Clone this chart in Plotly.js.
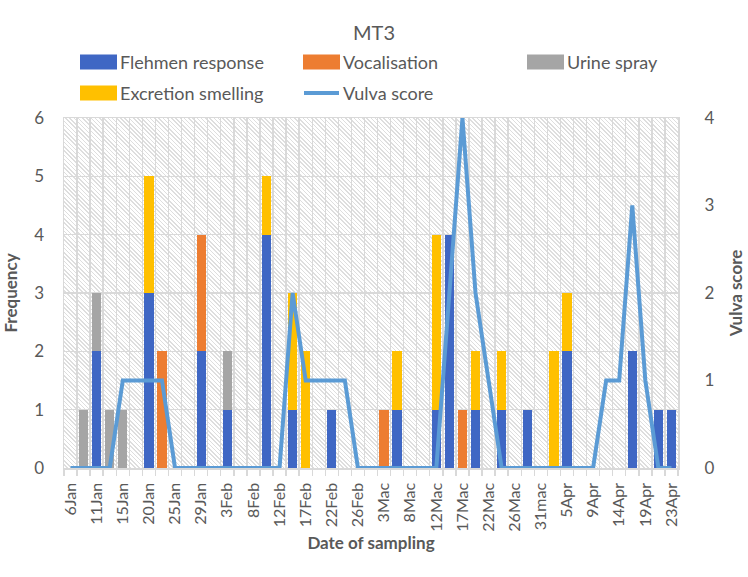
<!DOCTYPE html>
<html>
<head>
<meta charset="utf-8">
<script src="https://cdn.plot.ly/plotly-3.0.1.min.js"></script>
<style>
  html, body { margin: 0; padding: 0; background: #ffffff; }
  #wrap { position: relative; width: 748px; height: 577px; }
  /* diagonal hatch behind the plotting area */
  #hatch {
    position: absolute;
    background: repeating-linear-gradient(45deg, #ffffff 0px, #ffffff 1.9px, #dedede 1.9px, #dedede 3px);
  }
  #chart { position: absolute; left: 0; top: 0; width: 748px; height: 577px; }
</style>
</head>
<body>
<div id="wrap">
  <div id="hatch"></div>
  <div id="chart"></div>
</div>
<script>
// Date labels printed on the axis (every second sampling occasion)
const dateLabels = ['6Jan', '11Jan', '15Jan', '20Jan', '25Jan', '29Jan', '3Feb', '8Feb',
  '12Feb', '17Feb', '22Feb', '26Feb', '3Mac', '8Mac', '12Mac', '17Mac', '22Mac', '26Mac',
  '31mac', '5Apr', '9Apr', '14Apr', '19Apr', '23Apr'];

// Behaviour counts per sampling occasion (47 occasions)
const flehmen = [
  0, 0, 2, 0, 0, 0, 3, 0, 0, 0,
  2, 0, 1, 0, 0, 4, 0, 1, 0, 0,
  1, 0, 0, 0, 0, 1, 0, 0, 1, 4,
  0, 1, 0, 1, 0, 1, 0, 0, 2, 0,
  0, 0, 0, 2, 0, 1, 1];
const vocalisation = [
  0, 0, 0, 0, 0, 0, 0, 2, 0, 0,
  2, 0, 0, 0, 0, 0, 0, 0, 0, 0,
  0, 0, 0, 0, 1, 0, 0, 0, 0, 0,
  1, 0, 0, 0, 0, 0, 0, 0, 0, 0,
  0, 0, 0, 0, 0, 0, 0];
const urineSpray = [
  0, 1, 1, 1, 1, 0, 0, 0, 0, 0,
  0, 0, 1, 0, 0, 0, 0, 0, 0, 0,
  0, 0, 0, 0, 0, 0, 0, 0, 0, 0,
  0, 0, 0, 0, 0, 0, 0, 0, 0, 0,
  0, 0, 0, 0, 0, 0, 0];
const excretionSmelling = [
  0, 0, 0, 0, 0, 0, 2, 0, 0, 0,
  0, 0, 0, 0, 0, 1, 0, 2, 2, 0,
  0, 0, 0, 0, 0, 1, 0, 0, 3, 0,
  0, 1, 0, 1, 0, 0, 0, 2, 1, 0,
  0, 0, 0, 0, 0, 0, 0];
// Vulva score on the secondary axis
const vulvaScore = [
  0, 0, 0, 0, 1, 1, 1, 1, 0, 0,
  0, 0, 0, 0, 0, 0, 0, 2, 1, 1,
  1, 1, 0, 0, 0, 0, 0, 0, 0, 2,
  4, 2, 1, 0, 0, 0, 0, 0, 0, 0,
  0, 1, 1, 3, 1, 0, 0];

const sampleIndex = flehmen.map((_, i) => i);
const tickVals = dateLabels.map((_, k) => 2 * k);

const COLORS = {
  flehmen: '#3f67c4',
  vocal: '#ed7d31',
  urine: '#a5a5a5',
  excretion: '#ffc000',
  vulva: '#5b9bd5'
};
const TEXT = '#595959';
const GRID = '#d9d9d9';
const FONT = 'Lato, "Open Sans", sans-serif';

function barTrace(name, values, color) {
  return {
    type: 'bar', name: name, x: sampleIndex, y: values,
    marker: { color: color, line: { width: 0 } },
    hoverinfo: 'x+y+name'
  };
}

const traces = [
  barTrace('Flehmen response', flehmen, COLORS.flehmen),
  barTrace('Vocalisation', vocalisation, COLORS.vocal),
  barTrace('Urine spray', urineSpray, COLORS.urine),
  barTrace('Excretion smelling', excretionSmelling, COLORS.excretion),
  {
    type: 'scatter', mode: 'lines', name: 'Vulva score',
    x: sampleIndex, y: vulvaScore, yaxis: 'y2',
    line: { color: COLORS.vulva, width: 4 }
  }
];

// Page geometry
const W = 748, H = 577;
const M = { l: 64, r: 70, t: 118, b: 109 };
const plotW = W - M.l - M.r, plotH = H - M.t - M.b;
const px = (xPix) => (xPix - M.l) / plotW;
const py = (yPix) => (H - M.b - yPix) / plotH;

// Legend drawn as swatches + labels above the plot, two rows
const legendItems = [
  { name: 'Flehmen response', color: COLORS.flehmen, kind: 'box', col: 0, row: 0 },
  { name: 'Vocalisation', color: COLORS.vocal, kind: 'box', col: 1, row: 0 },
  { name: 'Urine spray', color: COLORS.urine, kind: 'box', col: 2, row: 0 },
  { name: 'Excretion smelling', color: COLORS.excretion, kind: 'box', col: 0, row: 1 },
  { name: 'Vulva score', color: COLORS.vulva, kind: 'line', col: 1, row: 1 }
];
const legendColX = [80, 303, 527];
const legendRowY = [62, 93];
const swatchW = 37, swatchH = 15;

const shapes = [];
const annotations = [];
legendItems.forEach(it => {
  const x0 = legendColX[it.col];
  const yc = legendRowY[it.row];
  if (it.kind === 'box') {
    shapes.push({
      type: 'rect', xref: 'paper', yref: 'paper',
      x0: px(x0), x1: px(x0 + swatchW), y0: py(yc + swatchH / 2), y1: py(yc - swatchH / 2),
      fillcolor: it.color, line: { width: 0 }
    });
  } else {
    shapes.push({
      type: 'line', xref: 'paper', yref: 'paper',
      x0: px(x0 + 1), x1: px(x0 + swatchW - 1), y0: py(yc), y1: py(yc),
      line: { color: it.color, width: 4 }
    });
  }
  annotations.push({
    xref: 'paper', yref: 'paper', x: px(x0 + swatchW + 1), y: py(yc),
    xanchor: 'left', yanchor: 'middle', showarrow: false,
    text: it.name, font: { size: 18, color: TEXT, family: FONT }
  });
});

const layout = {
  width: W, height: H,
  margin: M,
  paper_bgcolor: 'rgba(0,0,0,0)',
  plot_bgcolor: 'rgba(0,0,0,0)',
  barmode: 'stack',
  bargap: 0.29,
  showlegend: false,
  font: { family: FONT, color: TEXT, size: 14 },
  title: {
    text: 'MT3', x: 0.5, xanchor: 'center', y: 1 - 33 / H, yref: 'container', yanchor: 'middle',
    font: { size: 20, color: TEXT, family: FONT }
  },
  xaxis: {
    range: [-0.5, 46.5],
    tickmode: 'array', tickvals: tickVals, ticktext: dateLabels,
    tickangle: -90,
    ticks: 'outside', ticklen: 7, tickcolor: 'rgba(0,0,0,0)',
    tickfont: { size: 16, color: TEXT },
    showgrid: false, zeroline: false,
    showline: true, linecolor: GRID, linewidth: 1.5, mirror: true,
    minor: {
      tickmode: 'linear', tick0: -0.5, dtick: 1,
      showgrid: true, gridcolor: GRID, gridwidth: 1.4,
      ticks: 'outside', ticklen: 6, tickcolor: GRID, tickwidth: 1.4
    },
    title: { text: 'Date of sampling', font: { size: 17, weight: 'bold', color: TEXT }, standoff: 2 }
  },
  yaxis: {
    range: [0, 6], dtick: 1, tick0: 0,
    showgrid: true, gridcolor: GRID, gridwidth: 1.5,
    zeroline: false,
    showline: true, linecolor: GRID, linewidth: 1.5, mirror: true,
    ticks: 'outside', ticklen: 15, tickcolor: 'rgba(0,0,0,0)',
    tickfont: { size: 17, color: TEXT },
    title: { text: 'Frequency', font: { size: 17, weight: 'bold', color: TEXT }, standoff: 12 }
  },
  yaxis2: {
    overlaying: 'y', side: 'right',
    range: [0, 4], dtick: 1, tick0: 0,
    showgrid: false, zeroline: false, showline: false,
    ticks: 'outside', ticklen: 22, tickcolor: 'rgba(0,0,0,0)',
    tickfont: { size: 17, color: TEXT },
    title: { text: 'Vulva score', font: { size: 17, weight: 'bold', color: TEXT }, standoff: 16 }
  },
  shapes: shapes,
  annotations: annotations
};

const gd = document.getElementById('chart');
Plotly.newPlot(gd, traces, layout, { displayModeBar: false, staticPlot: true }).then(() => {
  const s = gd._fullLayout._size;
  const h = document.getElementById('hatch');
  h.style.left = s.l + 'px';
  h.style.top = s.t + 'px';
  h.style.width = s.w + 'px';
  h.style.height = s.h + 'px';
});
</script>
</body>
</html>
